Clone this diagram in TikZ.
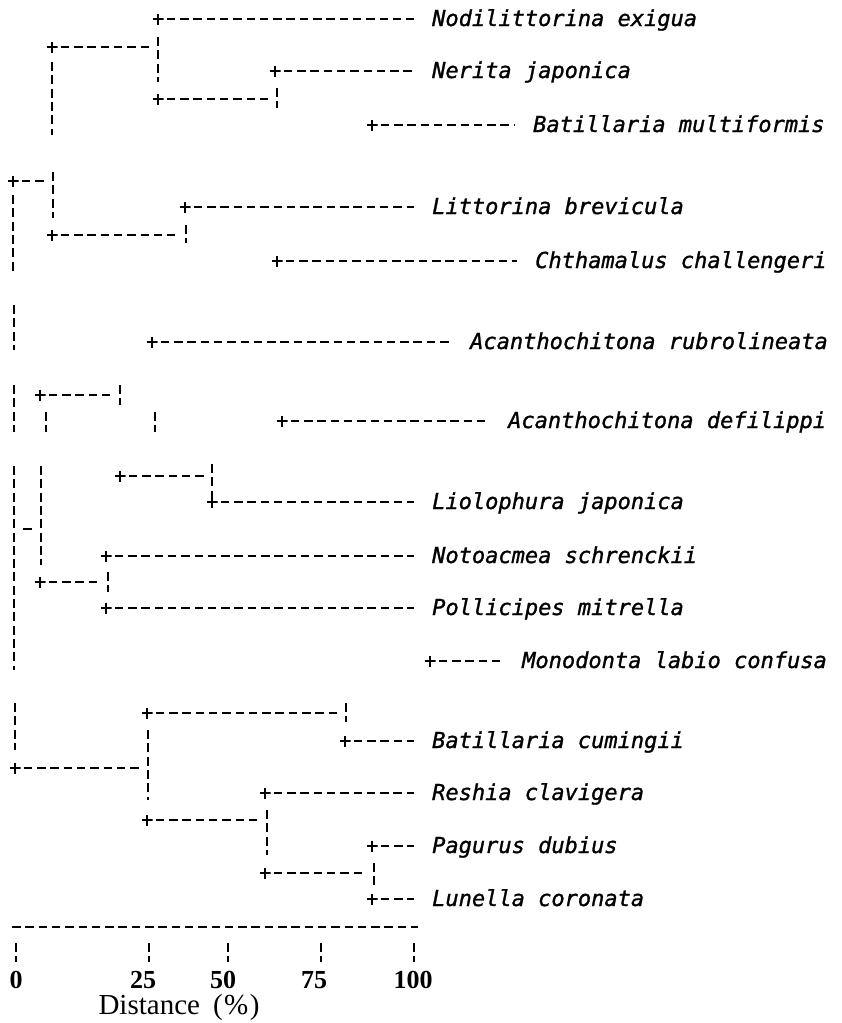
\documentclass[tikz,border=0pt]{standalone}
\usepackage{fontspec}
\newfontfamily\labfont{DejaVu Sans Mono}[ItalicFont={DejaVu Sans Mono Oblique}, ItalicFeatures={FakeBold=1.2}]
\newfontfamily\axfont{Liberation Serif}
\tikzset{
  hd/.style={line width=2.5pt, dash pattern=on 8.5pt off 4.8pt},
  vd/.style={line width=2.9pt, dash pattern=on 9pt off 4.3pt},
  plusmark/.style={inner sep=0pt, minimum size=11pt,
    path picture={\draw[line width=2.8pt]
      (path picture bounding box.west)--(path picture bounding box.east)
      (path picture bounding box.north)--(path picture bounding box.south);}},
  sp/.style={anchor=base west, inner sep=0pt, font=\labfont\itshape\fontsize{22}{22}\selectfont},
  leaf/.style={hd, shorten <=3pt, shorten >=18pt},
  inner/.style={hd, shorten <=3pt},
  digit/.style={anchor=base, inner sep=0pt, font=\axfont\bfseries\fontsize{26}{26}\selectfont},
}
\begin{document}
\begin{tikzpicture}[x=1pt,y=-1pt]
\useasboundingbox (0,0) rectangle (842,1023);

% plus marks
\foreach \n/\x/\y in {A/158/19, B/52/47, C/275/71, D/158/99, E/372/125, F/13/181,
  G/185/207, H/52/235, I/277/261, J/152/342, K/40/395, L/282/421, M/120/476,
  N/212/502, O/106/556, P/40/582, Q/106/608, R/430/661, S/147/713, T/345/741,
  U/15/768, V/265/793, W/147/820, X/372/846, Y/265/873, Z/372/899}
  {\node[plusmark] (p\n) at (\x,\y) {};}

% species labels
\node[sp] (lA) at (432,26) {Nodilittorina exigua};
\node[sp] (lC) at (432,78) {Nerita japonica};
\node[sp] (lE) at (533,132) {Batillaria multiformis};
\node[sp] (lG) at (432,214) {Littorina brevicula};
\node[sp] (lI) at (535,268) {Chthamalus challengeri};
\node[sp] (lJ) at (470,349) {Acanthochitona rubrolineata};
\node[sp] (lL) at (508,428) {Acanthochitona defilippi};
\node[sp] (lN) at (432,509) {Liolophura japonica};
\node[sp] (lO) at (432,563) {Notoacmea schrenckii};
\node[sp] (lQ) at (432,615) {Pollicipes mitrella};
\node[sp] (lR) at (522,668) {Monodonta labio confusa};
\node[sp] (lT) at (432,748) {Batillaria cumingii};
\node[sp] (lV) at (432,800) {Reshia clavigera};
\node[sp] (lX) at (432,853) {Pagurus dubius};
\node[sp] (lZ) at (432,906) {Lunella coronata};

% leaf connectors
\foreach \n in {A,C,E,G,I,J,L,N,O,Q,R,T,V,X,Z}
  \draw[leaf] (p\n) -- (p\n -| l\n.west);

% inner horizontal connectors
\foreach \n/\x in {B/150, D/270, F/45, H/175, K/112, M/205, P/100, S/337, U/140, W/258, Y/365}
  {\coordinate (e\n) at (\x,0);
   \draw[inner] (p\n) -- (p\n -| e\n);}

% vertical broken bars
\foreach \n/\x/\a/\b in {1/158/37/82, 2/52/62/135, 3/277/88/108, 4/53/172/218,
  5/186/225/243, 6/13/195/271, 7/14/305/350, 8/14/385/432, 9/120/385/405,
  10/46/412/432, 11/155/412/432, 12/14/466/670, 13/41/466/565, 14/212/464/498,
  15/108/572/592, 16/15/703/750, 17/346/703/722, 18/148/730/800, 19/267/810/855,
  20/374/863/885}
  {\coordinate (v\n a) at (\x,\a); \coordinate (v\n b) at (\x,\b);
   \draw[vd] (v\n a) -- (v\n b);}

% short dash
\coordinate (d1) at (23,529); \coordinate (d2) at (32,529);
\draw[line width=2.5pt] (d1) -- (d2);

% axis
\coordinate (ax0) at (12,927); \coordinate (ax1) at (418,927);
\draw[hd] (ax0) -- (ax1);
\foreach \n/\x/\lx/\t in {0/16/16/0, 1/149/143/25, 2/228/223/50, 3/321/314/75, 4/414/413/100}
  {\coordinate (t\n a) at (\x,943); \coordinate (t\n b) at (\x,962);
   \draw[vd] (t\n a) -- (t\n b);
   \node[digit] (n\n) at (\lx,988) {\t};}
\node[anchor=base, inner sep=0pt, font=\axfont\fontsize{29}{29}\selectfont] (dist) at (179,1014) {Distance\hspace{0.45em}(\hspace{0.05em}\%\hspace{0.05em})};
\end{tikzpicture}
\end{document}
